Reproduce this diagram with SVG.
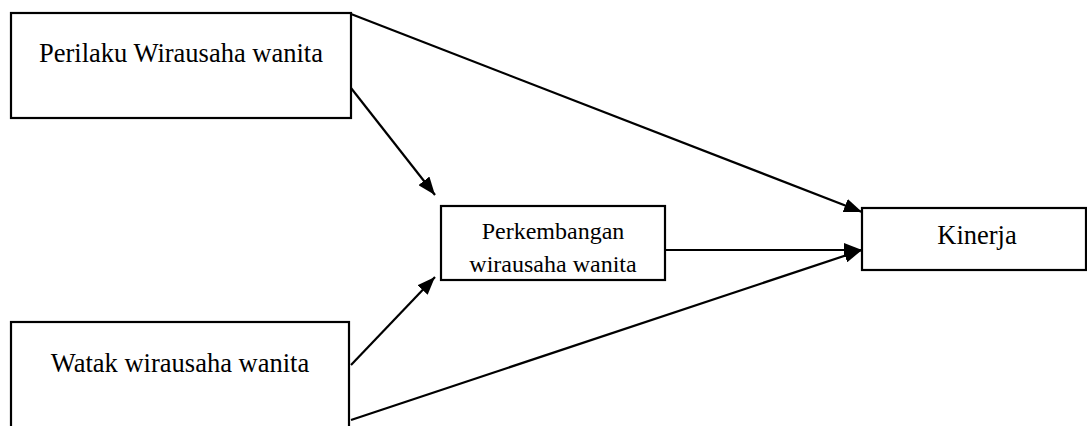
<svg xmlns="http://www.w3.org/2000/svg" width="1087" height="426" viewBox="0 0 1087 426">
<style>
.box{fill:#fff;stroke:#000;stroke-width:2.2}
.t{font-family:"Liberation Serif",serif;fill:#000;text-anchor:middle}
.c{stroke:#000;stroke-width:2.2;fill:none}
</style>
<defs>
<marker id="a" viewBox="0 0 18 14" refX="18" refY="7" markerWidth="18" markerHeight="14" markerUnits="userSpaceOnUse" orient="auto"><path d="M0,0L18,7L0,14z" fill="#000"/></marker>
<clipPath id="cp2"><rect x="441" y="206" width="224" height="73"/></clipPath>
</defs>
<g id="n1"><rect class="box" x="11" y="13" width="340" height="105"/><text class="t" x="181" y="62" font-size="26.5">Perilaku Wirausaha wanita</text></g>
<g id="n2"><rect class="box" x="441" y="206" width="224" height="74"/><g clip-path="url(#cp2)"><text class="t" x="553" y="239" font-size="24">Perkembangan</text><text class="t" x="553" y="272" font-size="24">wirausaha wanita</text></g></g>
<g id="n3"><rect class="box" x="862" y="208" width="224" height="62"/><text class="t" x="977" y="244" font-size="26.5">Kinerja</text></g>
<g id="n4"><rect class="box" x="11" y="322" width="338" height="110"/><text class="t" x="180" y="372" font-size="26.5">Watak wirausaha wanita</text></g>
<g id="connectors">
<line class="c" x1="351" y1="14" x2="862" y2="212" marker-end="url(#a)"/>
<line class="c" x1="351" y1="88" x2="435" y2="195" marker-end="url(#a)"/>
<line class="c" x1="351" y1="365" x2="435" y2="277" marker-end="url(#a)"/>
<line class="c" x1="351" y1="420" x2="862" y2="250" marker-end="url(#a)"/>
<line class="c" x1="665" y1="250" x2="862" y2="250" marker-end="url(#a)"/>
</g>
</svg>
